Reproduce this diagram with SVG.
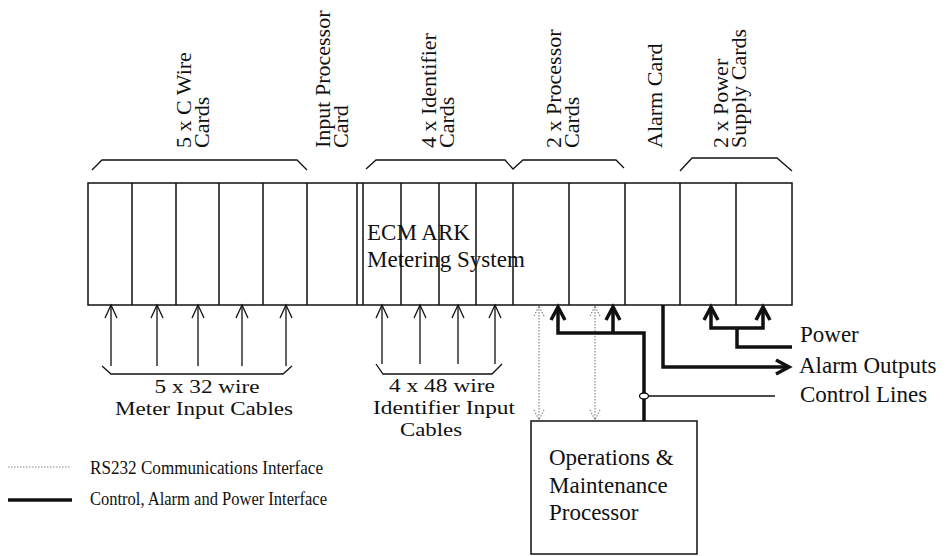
<svg xmlns="http://www.w3.org/2000/svg" width="951" height="556" viewBox="0 0 951 556">
<style>
text{font-family:"Liberation Serif","DejaVu Serif",serif;fill:#111}
.h{font-size:22px}
.t{font-size:23px}
.c{font-size:19px}
.lg{font-size:18px}
.ln{stroke:#111;stroke-width:1.5;fill:none}
.thin{stroke:#111;stroke-width:1.3;fill:none}
.thick{stroke:#111;stroke-width:3.5;fill:none;stroke-linejoin:miter}
.dot{stroke:#888;stroke-width:1.2;fill:none;stroke-dasharray:1.5 1.5}
</style>
<rect width="951" height="556" fill="#fff"/>
<g id="rack">
<rect class="ln" x="88" y="183" width="704" height="122"/>
<path class="ln" d="M132,183V305M176,183V305M219,183V305M263,183V305M307,183V305M357,183V305M363,183V305M401,183V305M439,183V305M476,183V305M513,183V305M569,183V305M625,183V305M680,183V305M736,183V305"/>
<text class="t" x="367" y="240">ECM ARK</text>
<text class="t" x="367" y="267">Metering System</text>
</g>
<g id="headings">
<polyline class="thin" points="92,170 102,160 297,160 307,170"/>
<polyline class="thin" points="366,169 376,160 505,160 513,169 523,160 616,160 624,168"/>
<polyline class="thin" points="680,171 692,158 777,158 792,171"/>
<text class="h" transform="translate(191,148) rotate(-90)"><tspan x="0" y="0">5 x C Wire</tspan><tspan x="0" y="18">Cards</tspan></text>
<text class="h" transform="translate(330,148) rotate(-90)"><tspan x="0" y="0">Input Processor</tspan><tspan x="0" y="18">Card</tspan></text>
<text class="h" transform="translate(436,148) rotate(-90)"><tspan x="0" y="0">4 x Identifier</tspan><tspan x="0" y="18">Cards</tspan></text>
<text class="h" transform="translate(561,148) rotate(-90)"><tspan x="0" y="0">2 x Processor</tspan><tspan x="0" y="18">Cards</tspan></text>
<text class="h" transform="translate(662,148) rotate(-90)">Alarm Card</text>
<text class="h" transform="translate(728,148) rotate(-90)"><tspan x="0" y="0">2 x Power</tspan><tspan x="0" y="18">Supply Cards</tspan></text>
</g>
<g id="om-processor">
<rect class="ln" x="531" y="421" width="166" height="133"/>
<text class="t" x="549" y="465">Operations &amp;</text>
<text class="t" x="549" y="493">Maintenance</text>
<text class="t" x="549" y="520">Processor</text>
</g>
<g id="connectors">
<path class="thin" d="M111,366V305M157,366V305M198,366V305M242,366V305M286,366V305"/>
<path class="thin" d="M105,318L111,305L117,318M151,318L157,305L163,318M192,318L198,305L204,318M236,318L242,305L248,318M280,318L286,305L292,318"/>
<polyline class="thin" points="102,366 111,374 283,374 292,366"/>
<path class="thin" d="M382,364V305M420,364V305M458,364V305M495,364V305"/>
<path class="thin" d="M376,318L382,305L388,318M414,318L420,305L426,318M452,318L458,305L464,318M489,318L495,305L501,318"/>
<polyline class="thin" points="376,364 383,374 492,374 502,364"/>
<path class="dot" d="M539,306V420M595,306V420"/>
<path class="dot" d="M534,316L539,306L544,316M534,410L539,420L544,410M590,316L595,306L600,316M590,410L595,420L600,410"/>
<path class="thick" d="M558,307V333H644V421M613,307V333"/>
<path class="thick" d="M551,320L558,307L565,320M606,320L613,307L620,320"/>
<ellipse cx="644" cy="396" rx="4.5" ry="3" fill="#fff" stroke="#111" stroke-width="1.3"/>
<line class="thin" x1="648.5" y1="396" x2="775" y2="396"/>
<path class="thick" d="M663,305V367H786"/>
<path class="thick" d="M776,360L789,367L776,374"/>
<path class="thick" d="M711,307V328H763V307M737,328V347H792"/>
<path class="thick" d="M704,320L711,307L718,320M756,320L763,307L770,320"/>
</g>
<g id="side-labels">
<text class="t" x="800" y="342">Power</text>
<text class="t" x="799" y="373">Alarm Outputs</text>
<text class="t" x="800" y="402">Control Lines</text>
</g>
<g id="cable-labels">
<text class="c" x="207" y="393" text-anchor="middle" textLength="105" lengthAdjust="spacingAndGlyphs">5 x 32 wire</text>
<text class="c" x="204" y="415" text-anchor="middle" textLength="178" lengthAdjust="spacingAndGlyphs">Meter Input Cables</text>
<text class="c" x="442" y="392" text-anchor="middle" textLength="106" lengthAdjust="spacingAndGlyphs">4 x 48 wire</text>
<text class="c" x="444" y="414" text-anchor="middle" textLength="142" lengthAdjust="spacingAndGlyphs">Identifier Input</text>
<text class="c" x="431" y="436" text-anchor="middle" textLength="62" lengthAdjust="spacingAndGlyphs">Cables</text>
</g>
<g id="legend">
<line class="dot" x1="8" y1="467" x2="70" y2="467"/>
<text class="lg" x="90" y="474" textLength="233" lengthAdjust="spacingAndGlyphs">RS232 Communications Interface</text>
<line class="thick" x1="8" y1="500" x2="72" y2="500" stroke-width="3"/>
<text class="lg" x="90" y="505" textLength="237" lengthAdjust="spacingAndGlyphs">Control, Alarm and Power Interface</text>
</g>
</svg>
